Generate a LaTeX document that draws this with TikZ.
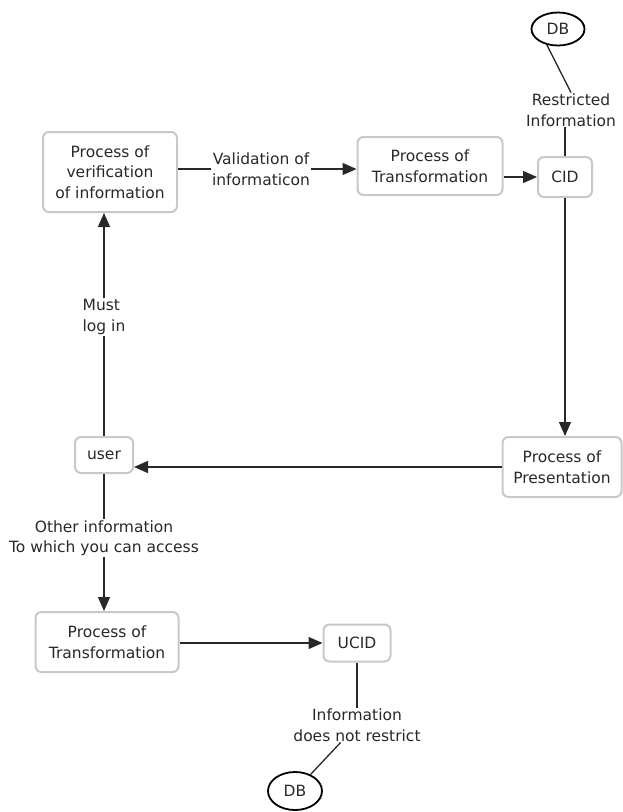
\documentclass[tikz,border=0pt]{standalone}
\usepackage{fontspec}
\setmainfont{DejaVu Sans}
\usetikzlibrary{arrows.meta,positioning,shapes.geometric}
\definecolor{boxgray}{RGB}{200,200,200}
\definecolor{inkgray}{RGB}{40,40,40}

\begin{document}
\begin{tikzpicture}[x=1pt, y=-1pt,
  every node/.style={font=\fontsize{15.5}{20.5}\selectfont, text=inkgray},
  proc/.style={draw=boxgray, line width=2pt, rounded corners=6pt, fill=white, align=center, inner sep=0pt},
  store/.style={ellipse, draw=black, line width=1.8pt, inner sep=0pt, minimum width=53pt, minimum height=33pt},
  lbl/.style={align=center, inner sep=1pt},
  link/.style={draw=inkgray, line width=1.3pt},
  arr/.style={link, -{Triangle[length=14pt, width=12pt]}}
]
\useasboundingbox (0,0) rectangle (622,812);

% boxes
\node[proc, minimum width=134pt, minimum height=80pt] (verif) at (110,172) {Process of\\verification\\of information};
\node[proc, minimum width=145pt, minimum height=58pt] (transA) at (430,166) {Process of\\Transformation};
\node[proc, minimum width=54pt, minimum height=40pt] (cid) at (565,177) {CID};
\node[proc, minimum width=119pt, minimum height=60pt] (pres) at (562,467) {Process of\\Presentation};
\node[proc, minimum width=58pt, minimum height=36pt] (user) at (104,455) {user};
\node[proc, minimum width=143pt, minimum height=60pt] (transB) at (107,642) {Process of\\Transformation};
\node[proc, minimum width=67pt, minimum height=37pt] (ucid) at (357,643) {UCID};

% data stores
\node[store] (dbA) at (558,29) {DB};
\node[store, minimum width=54pt, minimum height=38pt] (dbB) at (295,791) {DB};

% link labels
\node[lbl] (valid) at (261,169) {Validation of\\informaticon};
\node[lbl] (restr) at (571,110) {Restricted\\Information};
\node[lbl, align=left] (login) at (104,317) {Must\\log in};
\node[lbl] (other) at (104,538) {Other information\\To which you can access};
\node[lbl] (notr) at (357,725) {Information\\does not restrict};

% connectors
\draw[link] (verif.east |- valid) -- (valid.west);
\draw[arr] (valid.east) -- (valid.east -| transA.west);
\draw[arr] (transA.east |- cid) -- (cid.west);
\draw[link] (dbA.235) -- (restr.north);
\draw[link] (restr.south -| cid.north) -- (cid.north);
\draw[arr] (cid.south) -- (cid.south |- pres.north);
\draw[arr] (pres.west) -- (pres.west -| user.east);
\draw[link] (user) -- (login);
\draw[arr] (login.north) -- (login.north |- verif.south);
\draw[link] (user) -- (other);
\draw[arr] (other.south) -- (other.south |- transB.north);
\draw[arr] (transB.east |- ucid) -- (ucid.west);
\draw[link] (ucid) -- (notr);
\draw[link] (notr) -- (dbB);
\end{tikzpicture}
\end{document}
